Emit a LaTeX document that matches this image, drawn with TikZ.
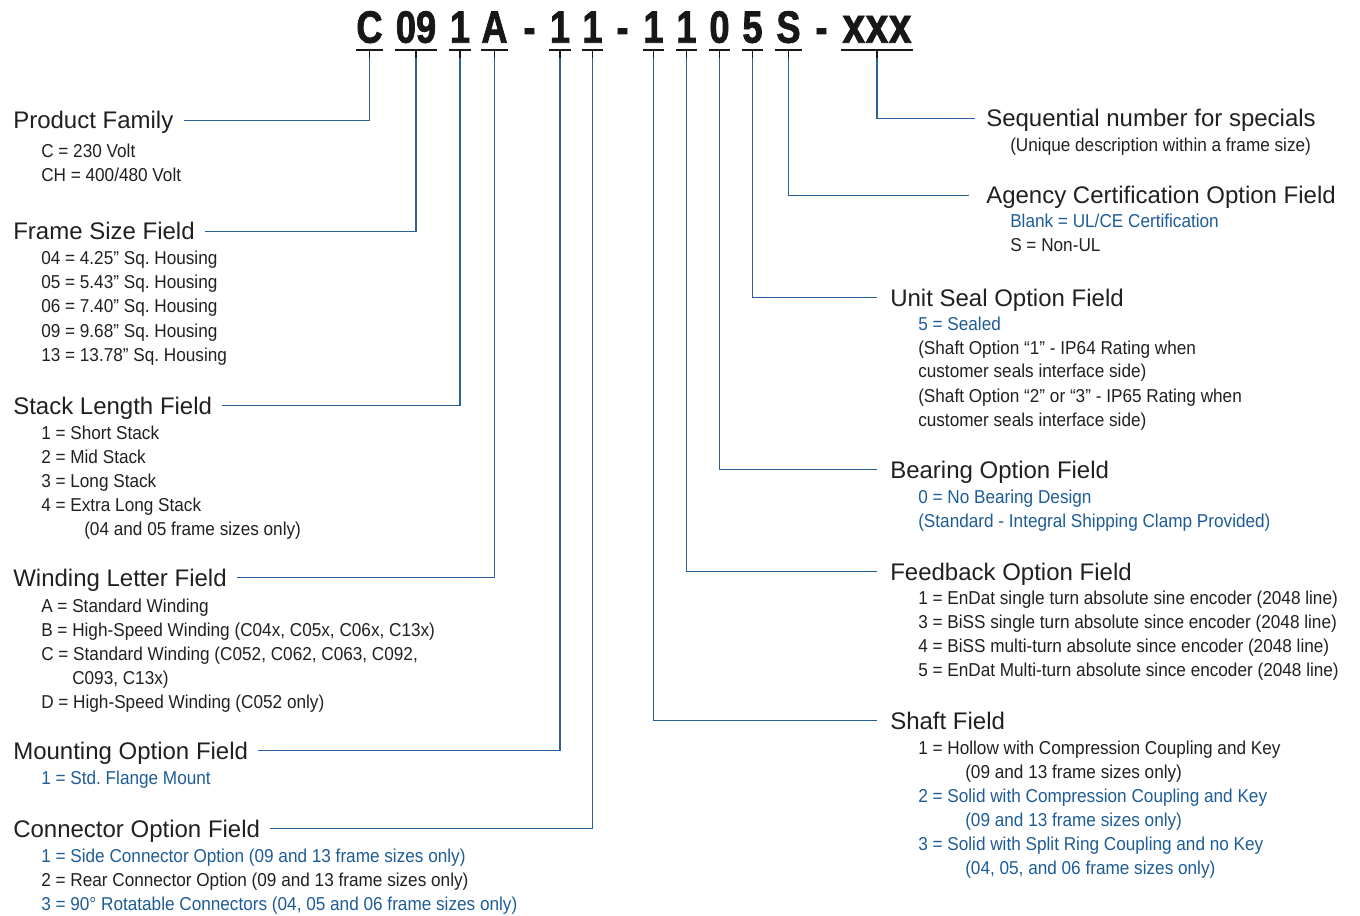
\documentclass[tikz,border=0pt]{standalone}
\usepackage{fontspec}
\setmainfont{Liberation Sans}
\newfontfamily\bodyf{Liberation Sans}[FakeStretch=0.92]
\newfontfamily\codef{Liberation Sans}[FakeStretch=0.8, BoldFeatures={FakeBold=1.6}]
\frenchspacing
\definecolor{txt}{RGB}{35,31,32}
\definecolor{bluetxt}{RGB}{30,92,150}
\definecolor{linecol}{RGB}{40,98,152}
\definecolor{codecol}{RGB}{25,22,23}
\tikzset{
  head/.style={anchor=base west, inner sep=0pt, text height=12.9pt, text depth=0pt,
    font=\fontsize{18}{22}\selectfont, text=txt},
  item/.style={anchor=base west, inner sep=0pt, font=\bodyf\fontsize{14}{18}\selectfont\frenchspacing, text=txt},
  bitem/.style={item, text=bluetxt},
  codech/.style={anchor=south, inner sep=0pt, text height=24.75pt, text depth=0pt,
    font=\codef\bfseries\fontsize{34}{40}\selectfont, text=codecol},
  codedash/.style={anchor=base, inner sep=0pt, font=\codef\bfseries\fontsize{34}{40}\selectfont, text=codecol},
  uline/.style={draw=codecol, line width=1.5pt},
  tick/.style={draw=codecol, line width=0.9pt},
  conn/.style={draw=linecol, line width=1.1pt},
}
\begin{document}
\begin{tikzpicture}[x=0.75pt,y=-0.75pt]
\useasboundingbox (0,0) rectangle (1360,916);

% ---- code characters ----
\node[codech, minimum width=20.25pt] (cC)  at (369.5,43) {C};
\node[codech, minimum width=31.5pt]  (c09) at (416,43) {09};
\node[codech, minimum width=16.5pt]  (c1a) at (460,43) {1};
\node[codech, minimum width=20.25pt] (cA)  at (494.5,43) {A};
\node[codedash] (d1) at (529.5,43) {-};
\node[codech, minimum width=16.5pt]  (c1b) at (560,43) {1};
\node[codech, minimum width=15.75pt] (c1c) at (592.5,43) {1};
\node[codedash] (d2) at (622.5,43) {-};
\node[codech, minimum width=15.75pt] (c1d) at (653.5,43) {1};
\node[codech, minimum width=15.75pt] (c1e) at (686.5,43) {1};
\node[codech, minimum width=15.75pt] (c0)  at (719.5,43) {0};
\node[codech, minimum width=15.75pt] (c5)  at (752.5,43) {5};
\node[codech, minimum width=20.25pt] (cS)  at (788.5,43) {S};
\node[codedash] (d3) at (821.5,43) {-};
\node[codech, minimum width=54pt]    (cx)  at (877,43) {\fontsize{38}{40}\selectfont x\kern0.5pt x\kern0.5pt x};

\foreach \n in {cC,c09,c1a,cA,c1b,c1c,c1d,c1e,c0,c5,cS,cx}{
  \draw[uline] ([yshift=-5.25pt]\n.south west) -- ([yshift=-5.25pt]\n.south east);
  \draw[tick] ([yshift=-5.25pt]\n.south) -- ([yshift=-11.25pt]\n.south) coordinate (t\n);
}

% ---- left headings ----
\node[head] (hPF) at (13,129) {Product Family};
\node[item] (pf1) at (41,158) {C = 230 Volt};
\node[item] (pf2) at (41,182) {CH = 400/480 Volt};

\node[head] (hFS) at (13,240) {Frame Size Field};
\node[item] (fs1) at (41,265) {04 = 4.25” Sq. Housing};
\node[item] (fs2) at (41,289) {05 = 5.43” Sq. Housing};
\node[item] (fs3) at (41,313) {06 = 7.40” Sq. Housing};
\node[item] (fs4) at (41,337) {09 = 9.68” Sq. Housing};
\node[item] (fs5) at (41,361) {13 = 13.78” Sq. Housing};

\node[head] (hSL) at (13,414) {Stack Length Field};
\node[item] (sl1) at (41,439) {1 = Short Stack};
\node[item] (sl2) at (41,463) {2 = Mid Stack};
\node[item] (sl3) at (41,487) {3 = Long Stack};
\node[item] (sl4) at (41,511) {4 = Extra Long Stack};
\node[item] (sl5) at (84,535) {(04 and 05 frame sizes only)};

\node[head] (hWL) at (13,586) {Winding Letter Field};
\node[item] (wl1) at (41,612) {A = Standard Winding};
\node[item] (wl2) at (41,636) {B = High-Speed Winding (C04x, C05x, C06x, C13x)};
\node[item] (wl3) at (41,660) {C = Standard Winding (C052, C062, C063, C092,};
\node[item] (wl4) at (72,684) {C093, C13x)};
\node[item] (wl5) at (41,708) {D = High-Speed Winding (C052 only)};

\node[head] (hMO) at (13,759) {Mounting Option Field};
\node[bitem] (mo1) at (41,784) {1 = Std. Flange Mount};

\node[head] (hCO) at (13,837) {Connector Option Field};
\node[bitem] (co1) at (41,862) {1 = Side Connector Option (09 and 13 frame sizes only)};
\node[item]  (co2) at (41,886) {2 = Rear Connector Option (09 and 13 frame sizes only)};
\node[bitem] (co3) at (41,910) {3 = 90° Rotatable Connectors (04, 05 and 06 frame sizes only)};

% ---- right headings ----
\node[head] (hSQ) at (986,127) {Sequential number for specials};
\node[item] (sq1) at (1010,152) {(Unique description within a frame size)};

\node[head] (hAC) at (986,204) {Agency Certification Option Field};
\node[bitem] (ac1) at (1010,228) {Blank = UL/CE Certification};
\node[item]  (ac2) at (1010,252) {S = Non-UL};

\node[head] (hUS) at (890,306) {Unit Seal Option Field};
\node[bitem] (us1) at (918,330) {5 = Sealed};
\node[item]  (us2) at (918,354) {(Shaft Option “1” - IP64 Rating when};
\node[item]  (us3) at (918,378) {customer seals interface side)};
\node[item]  (us4) at (918,402) {(Shaft Option “2” or “3” - IP65 Rating when};
\node[item]  (us5) at (918,426) {customer seals interface side)};

\node[head] (hBO) at (890,478) {Bearing Option Field};
\node[bitem] (bo1) at (918,503) {0 = No Bearing Design};
\node[bitem] (bo2) at (918,527) {(Standard - Integral Shipping Clamp Provided)};

\node[head] (hFO) at (890,580) {Feedback Option Field};
\node[item] (fo1) at (918,604) {1 = EnDat single turn absolute sine encoder (2048 line)};
\node[item] (fo2) at (918,628) {3 = BiSS single turn absolute since encoder (2048 line)};
\node[item] (fo3) at (918,652) {4 = BiSS multi-turn absolute since encoder (2048 line)};
\node[item] (fo4) at (918,676) {5 = EnDat Multi-turn absolute since encoder (2048 line)};

\node[head] (hSF) at (890,729) {Shaft Field};
\node[item]  (sf1) at (918,754) {1 = Hollow with Compression Coupling and Key};
\node[item]  (sf2) at (965,778) {(09 and 13 frame sizes only)};
\node[bitem] (sf3) at (918,802) {2 = Solid with Compression Coupling and Key};
\node[bitem] (sf4) at (965,826) {(09 and 13 frame sizes only)};
\node[bitem] (sf5) at (918,850) {3 = Solid with Split Ring Coupling and no Key};
\node[bitem] (sf6) at (965,874) {(04, 05, and 06 frame sizes only)};

% ---- connectors ----
\draw[conn] (tcC)  |- ([xshift=7.5pt]hPF.east);
\draw[conn] (tc09) |- ([xshift=7.5pt]hFS.east);
\draw[conn] (tc1a) |- ([xshift=7.5pt]hSL.east);
\draw[conn] (tcA)  |- ([xshift=7.5pt]hWL.east);
\draw[conn] (tc1b) |- ([xshift=7.5pt]hMO.east);
\draw[conn] (tc1c) |- ([xshift=7.5pt]hCO.east);
\draw[conn] (tc1d) |- ([xshift=-10pt]hSF.west);
\draw[conn] (tc1e) |- ([xshift=-10pt]hFO.west);
\draw[conn] (tc0)  |- ([xshift=-10pt]hBO.west);
\draw[conn] (tc5)  |- ([xshift=-10pt]hUS.west);
\draw[conn] (tcS)  |- ([xshift=-13pt]hAC.west);
\draw[conn] (tcx)  |- ([xshift=-8.5pt]hSQ.west);
\end{tikzpicture}
\end{document}
